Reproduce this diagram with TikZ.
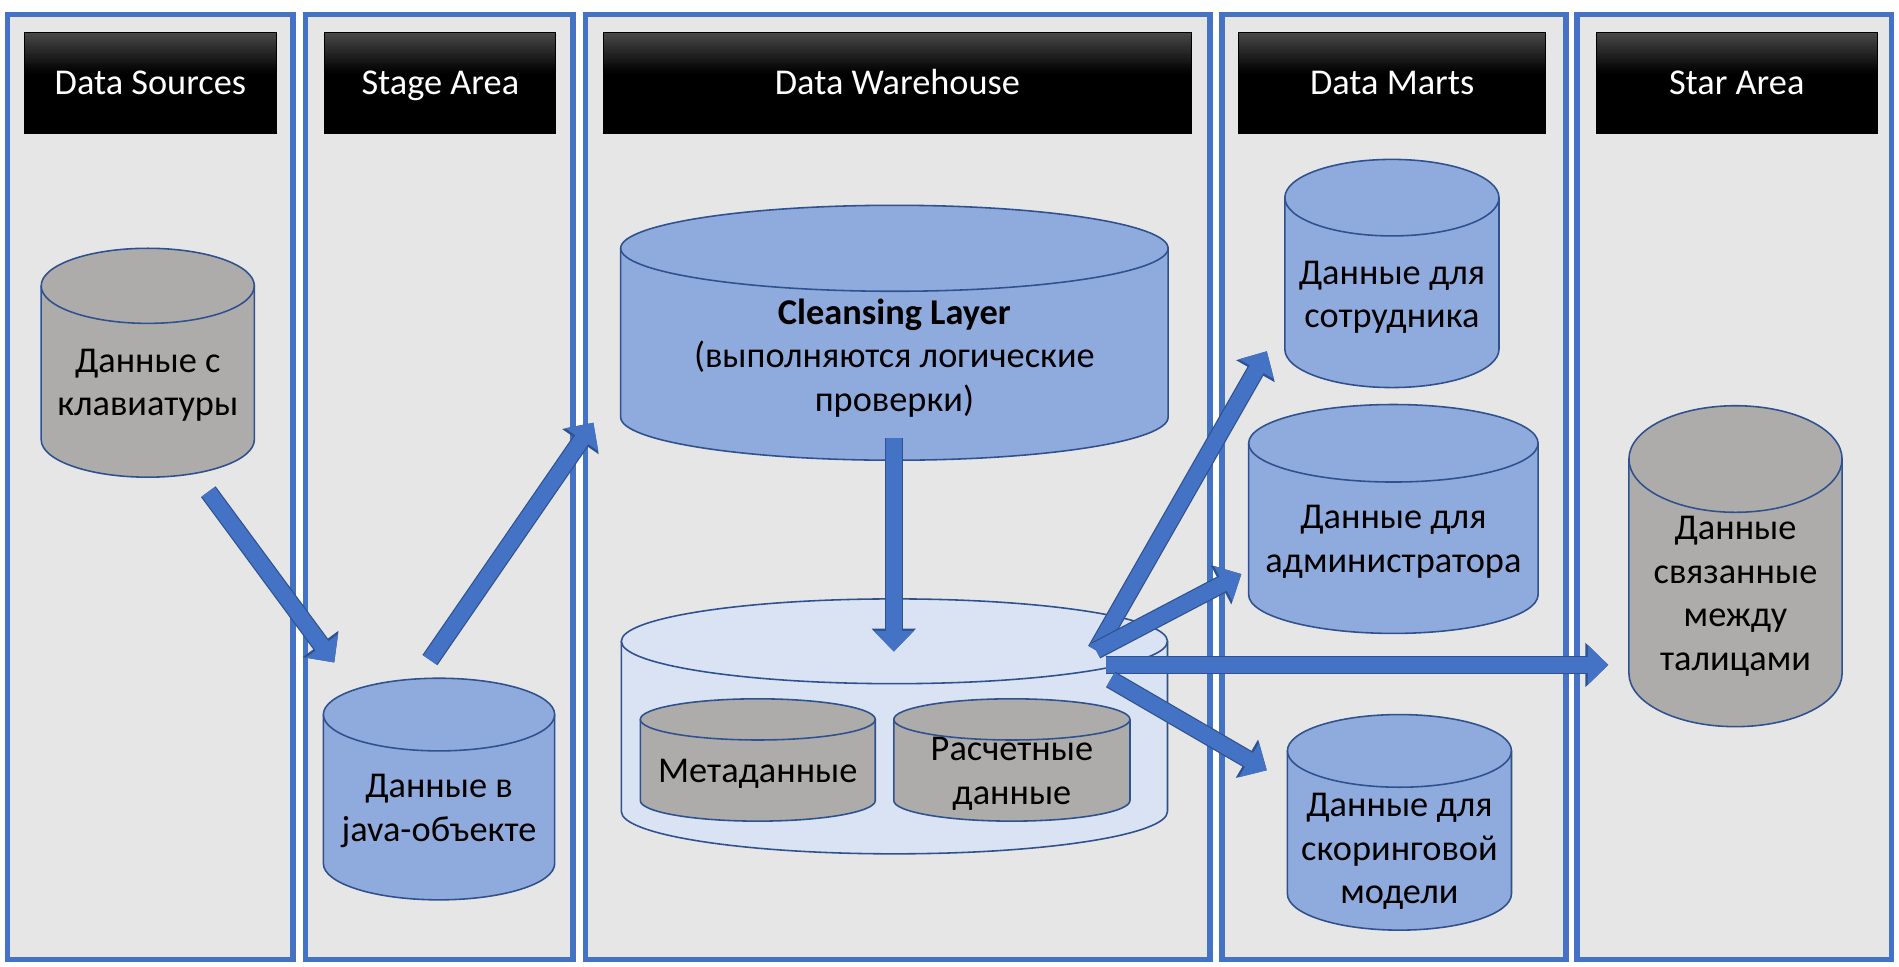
\documentclass[tikz,border=0pt]{standalone}
\usepackage{fontspec}
\setmainfont{Carlito}
\usetikzlibrary{arrows.meta,calc}
\definecolor{panelfill}{HTML}{E7E6E6}
\definecolor{panelline}{HTML}{4472C4}
\definecolor{cylblue}{HTML}{8FAADC}
\definecolor{cylgray}{HTML}{AEABAB}
\definecolor{cyllight}{HTML}{DAE3F3}
\definecolor{cylline}{HTML}{2F528F}
\definecolor{arrowblue}{HTML}{4472C4}
\definecolor{arrowdark}{HTML}{2F528F}
\definecolor{headtop}{HTML}{484848}
\tikzset{
  panel/.style={draw=panelline, fill=panelfill, line width=4.4pt},
  header/.style={draw=black, line width=0.8pt, fill=black, text=white,
    minimum height=83.7pt, inner sep=0pt, text height=19.3pt, text depth=0pt,
    font=\fontsize{30}{36}\selectfont,
    path picture={\foreach \i in {0,...,23}{%
      \pgfmathtruncatemacro\p{100-100*\i/24}%
      \fill[headtop!\p!black]
        ($(path picture bounding box.north west)!{\i/60}!(path picture bounding box.south west)$) rectangle
        ($(path picture bounding box.north east)!{(\i+1.4)/60}!(path picture bounding box.south east)$);}}},
  cyledge/.style={draw=cylline, line width=1.3pt},
  cyltext/.style={align=center, font=\fontsize{30}{36}\selectfont, inner sep=0pt},
  blockarrow/.style={line width=13pt, draw=arrowblue, -{Triangle[length=17pt,width=32pt]},
    preaction={draw=arrowdark, line width=15pt, -{Triangle[length=19pt,width=35.5pt]}}},
}
% name, cx, ytop, ybot, rx, ry, fill, text, extra text shift
\newcommand\dbcyl[9]{%
  \fill[#7] (#2-#5,-#3-#6) -- (#2-#5,-#4+#6) arc[start angle=180,end angle=360,x radius=#5,y radius=#6] -- (#2+#5,-#3-#6) -- cycle;
  \fill[#7] (#2,-#3-#6) ellipse[x radius=#5,y radius=#6];
  \draw[cyledge] (#2-#5,-#3-#6) -- (#2-#5,-#4+#6) arc[start angle=180,end angle=360,x radius=#5,y radius=#6] -- (#2+#5,-#3-#6);
  \draw[cyledge] (#2,-#3-#6) ellipse[x radius=#5,y radius=#6];
  \node[cyltext] (#1) at (#2,{-(#3+#6+#4)/2-3-#9}) {#8};
}
\begin{document}
\begin{tikzpicture}[x=1pt,y=1pt]
\fill[white] (0,0) rectangle (1568,-798.4);
\useasboundingbox (0,0) rectangle (1568,-798.4);
% panels
\draw[panel] (6,-12) rectangle (242,-792);
\draw[panel] (252,-12) rectangle (473,-792);
\draw[panel] (483.5,-12) rectangle (999,-792);
\draw[panel] (1009,-12) rectangle (1293,-792);
\draw[panel] (1302,-12) rectangle (1562,-792);
% headers
\node[header, minimum width=208.5pt] (h1) at (124.2,-68.5) {Data Sources};
\node[header, minimum width=190.6pt] (h2) at (363.6,-68.5) {Stage Area};
\node[header, minimum width=486pt] (h3) at (741,-68.5) {Data Warehouse};
\node[header, minimum width=253pt] (h4) at (1149.5,-68.5) {Data Marts};
\node[header, minimum width=232pt] (h5) at (1434,-68.5) {Star Area};
% cylinders
\dbcyl{keyb}{122}{205}{394}{88}{31}{cylgray}{Данные с\\клавиатуры}{0}
\dbcyl{java}{362.5}{560}{743}{95.5}{30}{cylblue}{Данные в\\java-объекте}{0}
\dbcyl{clean}{738.5}{169.5}{380}{226}{35.5}{cylblue}{\textbf{Cleansing Layer}\\(выполняются логические\\проверки)}{0}
\dbcyl{store}{738.5}{494.5}{705}{225.5}{35}{cyllight}{}{0}
\dbcyl{meta}{625.7}{577}{678}{97}{17}{cylgray}{Метаданные}{0}
\dbcyl{calc}{835.5}{577}{678}{97.5}{17}{cylgray}{Расчетные\\данные}{0}
\dbcyl{emp}{1149.3}{131.6}{320}{88.4}{31.6}{cylblue}{Данные для\\сотрудника}{1}
\dbcyl{adm}{1150.5}{334}{523}{119.5}{32}{cylblue}{Данные для\\администратора}{0}
\dbcyl{score}{1155.5}{590}{768}{92.5}{30}{cylblue}{Данные для\\скоринговой\\модели}{6}
\dbcyl{star}{1433}{335}{600}{88}{44}{cylgray}{Данные\\связанные\\между\\талицами}{0}
% arrow end points
\coordinate (a1s) at (172,-406);   \coordinate (a1e) at (276,-547);
\coordinate (a2s) at (355,-545);   \coordinate (a2e) at (490,-349);
\coordinate (a3s) at (738,-362);   \coordinate (a3e) at (738,-538);
\coordinate (hub) at (905,-537);
\coordinate (a4e) at (1046,-290);
\coordinate (a5e) at (1025,-474);
\coordinate (a6s) at (913,-549);   \coordinate (a6e) at (1328,-549);
\coordinate (a7s) at (917,-561);   \coordinate (a7e) at (1046,-636);
% arrows
\draw[blockarrow] (a1s) -- (a1e);
\draw[blockarrow] (a2s) -- (a2e);
\draw[blockarrow] (a3s) -- (a3e);
\draw[blockarrow] (hub) -- (a4e);
\draw[blockarrow] (hub) -- (a5e);
\draw[blockarrow] (a6s) -- (a6e);
\draw[blockarrow] (a7s) -- (a7e);
\end{tikzpicture}
\end{document}
